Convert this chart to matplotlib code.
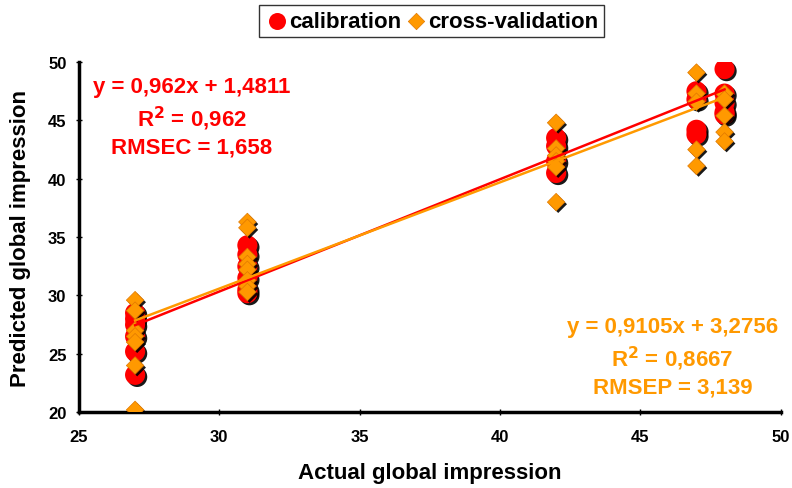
import matplotlib
matplotlib.use("Agg")
import matplotlib.pyplot as plt
import matplotlib.patheffects as pe
import numpy as np

plt.rcParams['font.family'] = ['Liberation Sans', 'DejaVu Sans']
plt.rcParams['font.weight'] = 'bold'
plt.rcParams['mathtext.default'] = 'bf'

# calibration (actual, predicted)
cal_x = [27]*6 + [31]*6 + [42]*4 + [47]*4 + [48]*5
cal_y = [28.5, 28.0, 27.5, 26.5, 25.2, 23.2,
         34.3, 33.5, 32.5, 31.5, 30.5, 30.2,
         43.5, 42.8, 41.5, 40.5,
         47.5, 46.8, 44.2, 43.8,
         49.4, 47.3, 46.5, 45.7, 45.5]
# cross-validation
cv_x = [27]*7 + [31]*8 + [42]*6 + [47]*5 + [48]*5
cv_y = [29.6, 28.7, 27.0, 26.5, 26.0, 24.0, 20.2,
        36.3, 35.8, 33.3, 32.7, 32.2, 31.3, 30.8, 30.3,
        44.8, 42.6, 42.0, 41.5, 41.0, 38.0,
        49.1, 47.3, 46.6, 42.5, 41.1,
        47.3, 46.8, 45.4, 44.0, 43.2]

cal_slope, cal_int = 0.962, 1.4811
cv_slope, cv_int = 0.9105, 3.2756

RED = '#FF0000'
ORANGE = '#FF9900'

fig = plt.figure(figsize=(7.92, 4.89), dpi=100)
ax = fig.add_axes([0.0997, 0.155, 0.886, 0.716])

shadow = [pe.SimplePatchShadow(offset=(1.5, -1.5), shadow_rgbFace='black', alpha=0.9), pe.Normal()]

ax.scatter(cal_x, cal_y, s=210, c=RED, marker='o', linewidths=0, zorder=3,
           path_effects=shadow)
ax.scatter(cv_x, cv_y, s=80, c=ORANGE, marker='D', edgecolors='#E07800', linewidths=0.5,
           zorder=4, path_effects=shadow)

xl = np.array([min(cal_x), max(cal_x)])
ax.plot(xl, cal_slope*xl + cal_int, color=RED, lw=1.8, zorder=5)
ax.plot(xl, cv_slope*xl + cv_int, color=ORANGE, lw=1.8, zorder=5)

# legend proxies
ax.scatter([], [], s=150, c=RED, marker='o', linewidths=0, label='calibration')
ax.scatter([], [], s=70, c=ORANGE, marker='D', edgecolors='#E07800', linewidths=0.5,
           label='cross-validation')

ax.set_xlim(25, 50)
ax.set_ylim(20, 50)
ax.set_xticks([25, 30, 35, 40, 45, 50])
ax.set_yticks([20, 25, 30, 35, 40, 45, 50])
for s in ['top', 'right']:
    ax.spines[s].set_visible(False)
for s in ['left', 'bottom']:
    ax.spines[s].set_linewidth(2.5)
ax.tick_params(axis='both', direction='inout', length=4, width=1, labelsize=12)
ax.tick_params(axis='x', pad=10)
ax.tick_params(axis='y', pad=7)
for lab in ax.get_xticklabels() + ax.get_yticklabels():
    lab.set_fontweight('bold')

ax.set_xlabel('Actual global impression', fontsize=16, fontweight='bold', labelpad=13)
ax.set_ylabel('Predicted global impression', fontsize=16, fontweight='bold', labelpad=12)

ax.text(0.161, 0.96, 'y = 0,962x + 1,4811\nR$^{2}$ = 0,962\nRMSEC = 1,658',
        transform=ax.transAxes, ha='center', va='top', color=RED, fontsize=16,
        fontweight='bold', linespacing=1.3)
ax.text(0.846, 0.275, 'y = 0,9105x + 3,2756\nR$^{2}$ = 0,8667\nRMSEP = 3,139',
        transform=ax.transAxes, ha='center', va='top', color=ORANGE, fontsize=16,
        fontweight='bold', linespacing=1.3)

handles, labels = ax.get_legend_handles_labels()
leg = fig.legend(handles, labels, loc='center', bbox_to_anchor=(0.545, 0.955), ncol=2,
                 frameon=True, fancybox=False, edgecolor='black', handletextpad=0.0,
                 columnspacing=0.1, borderpad=0.25, handlelength=1.1,
                 prop={'weight': 'bold', 'size': 16})
leg.get_frame().set_linewidth(1.0)

fig.savefig('out.png', dpi=100)
